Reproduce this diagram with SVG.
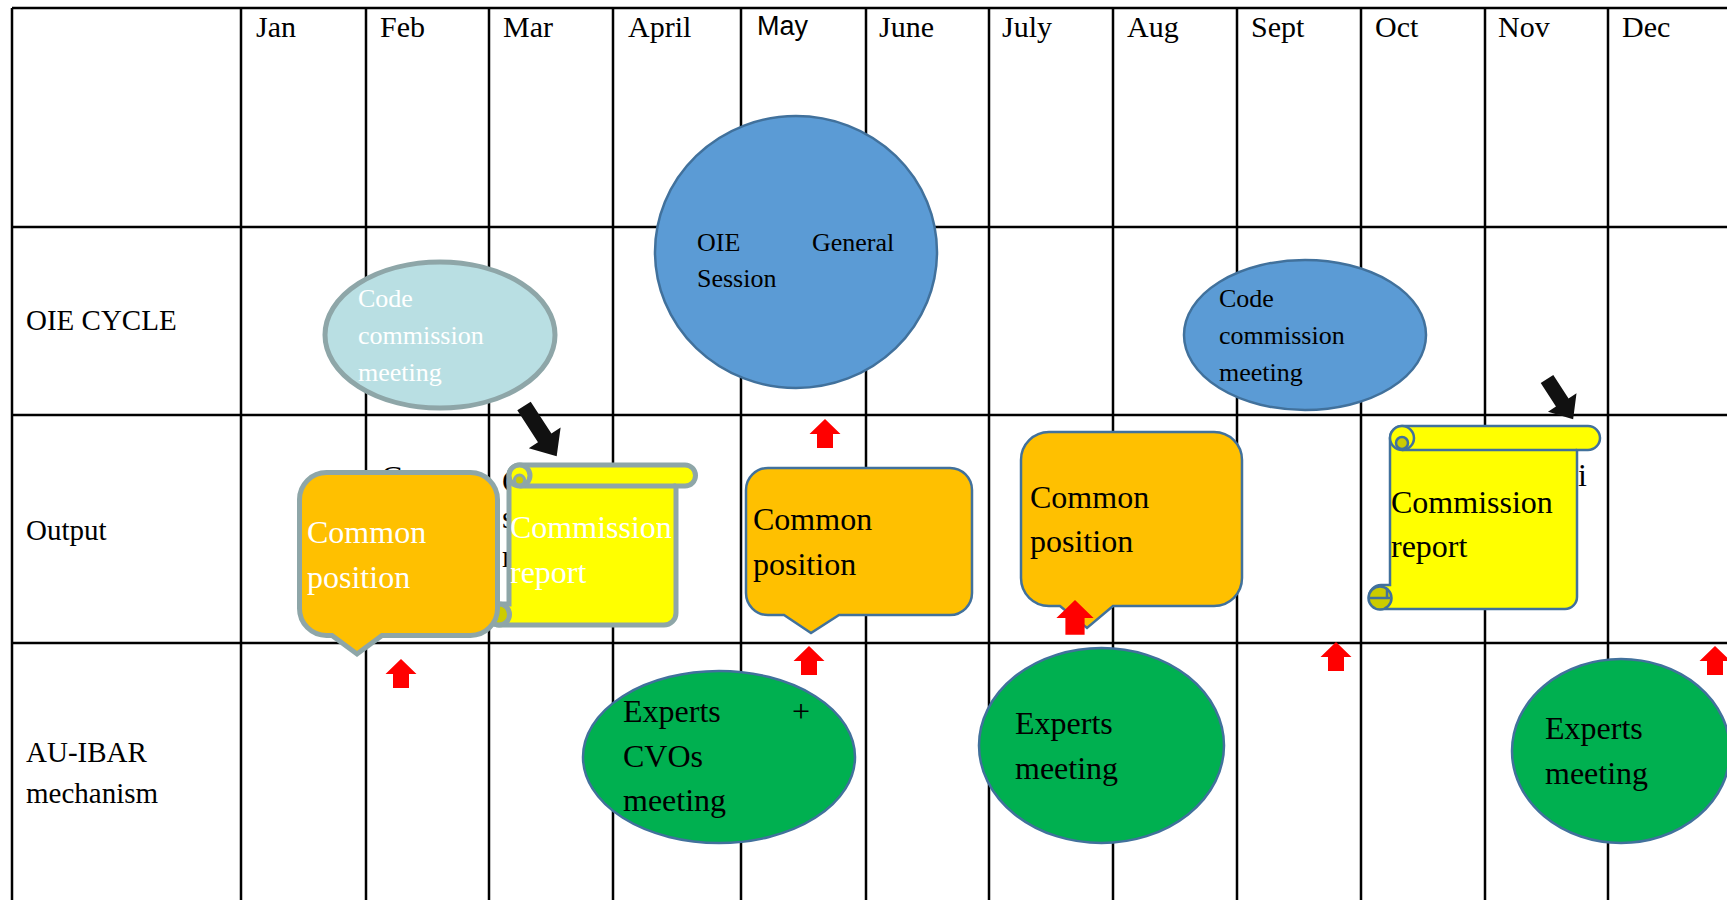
<svg xmlns="http://www.w3.org/2000/svg" xmlns:xlink="http://www.w3.org/1999/xlink" width="1727" height="900" viewBox="0 0 1727 900">
<style>
.g line{stroke:#000;stroke-width:2.5}
.s{font-family:"Liberation Serif","Times New Roman",serif}
.m{font-size:30px}
.r{font-size:29px}
.b{font-size:32px}
.c{font-size:26px}
.w{fill:#fff}
.k{fill:#000}
.blue{fill:#5b9bd5;stroke:#41719c;stroke-width:2.5}
.green{fill:#00b050;stroke:#41719c;stroke-width:2.5}
.orB{fill:#ffc000;stroke:#41719c;stroke-width:2.5}
.orG{fill:#ffc000;stroke:#8ea6a8;stroke-width:5}
.yB{fill:#ffff00;stroke:#41719c;stroke-width:2.5}
.yG{fill:#ffff00;stroke:#8ea6a8;stroke-width:5}
.dB{fill:#cccc00;stroke:#41719c;stroke-width:2.5}
.dG{fill:#cccc00;stroke:#8ea6a8;stroke-width:5}
.red{fill:#ff0000}
.blk{fill:#111}
</style>
<defs>
<path id="redArrow" d="M0,0 L15.5,15 L8,15 L8,29 L-8,29 L-8,15 L-15.5,15 Z"/>
</defs>
<rect width="1727" height="900" fill="#fff"/>
<g id="grid" class="g">
<line x1="12" y1="8" x2="1727" y2="8"/>
<line x1="12" y1="227" x2="1727" y2="227"/>
<line x1="12" y1="415" x2="1727" y2="415"/>
<line x1="12" y1="643" x2="1727" y2="643"/>
<line x1="12" y1="8" x2="12" y2="900"/>
<line x1="241" y1="8" x2="241" y2="900"/>
<line x1="366" y1="8" x2="366" y2="900"/>
<line x1="489" y1="8" x2="489" y2="900"/>
<line x1="613" y1="8" x2="613" y2="900"/>
<line x1="741" y1="8" x2="741" y2="900"/>
<line x1="866" y1="8" x2="866" y2="900"/>
<line x1="989" y1="8" x2="989" y2="900"/>
<line x1="1113" y1="8" x2="1113" y2="900"/>
<line x1="1237" y1="8" x2="1237" y2="900"/>
<line x1="1361" y1="8" x2="1361" y2="900"/>
<line x1="1485" y1="8" x2="1485" y2="900"/>
<line x1="1608" y1="8" x2="1608" y2="900"/>
</g>
<g id="headers" class="s m k">
<text x="256" y="37">Jan</text>
<text x="380" y="37">Feb</text>
<text x="503" y="37">Mar</text>
<text x="628" y="37">April</text>
<text x="757" y="35" style="font-family:'Liberation Sans',Arial,sans-serif;font-size:27px">May</text>
<text x="879" y="37">June</text>
<text x="1002" y="37">July</text>
<text x="1127" y="37">Aug</text>
<text x="1251" y="37">Sept</text>
<text x="1375" y="37">Oct</text>
<text x="1498" y="37">Nov</text>
<text x="1622" y="37">Dec</text>
</g>
<g id="rowlabels" class="s r k">
<text x="26" y="330">OIE CYCLE</text>
<text x="26" y="540">Output</text>
<text x="26" y="762">AU-IBAR</text>
<text x="26" y="803">mechanism</text>
</g>
<g id="hidden-fragments" class="s b k">
<text x="381" y="488">C</text>
<text x="502" y="492">C</text>
<text x="502" y="528">s</text>
<text x="502" y="567">r</text>
<text x="1578" y="486">i</text>
</g>
<g id="code-commission-feb">
<ellipse cx="440" cy="335" rx="115" ry="73" fill="#b9dfe3" stroke="#8ea6a8" stroke-width="5"/>
<g class="s c w"><text x="358" y="307">Code</text><text x="358" y="344">commission</text><text x="358" y="381">meeting</text></g>
</g>
<g id="oie-general-session">
<ellipse cx="796" cy="252" rx="141" ry="136" class="blue"/>
<g class="s c k"><text x="697" y="251">OIE</text><text x="812" y="251">General</text><text x="697" y="287">Session</text></g>
</g>
<g id="code-commission-sept">
<ellipse cx="1305" cy="335" rx="121" ry="75" class="blue"/>
<g class="s c k"><text x="1219" y="307">Code</text><text x="1219" y="344">commission</text><text x="1219" y="381">meeting</text></g>
</g>
<g id="commission-report-mar">
<path class="yG" d="M519.5,465 H685 A10.5 10.5 0 0 1 685,486 H676 V613 A12 12 0 0 1 664,625 H499 A10.5 10.5 0 0 1 499,604 H509 V475.5 A10.5 10.5 0 0 1 519.5,465 Z"/>
<path d="M519.5,486 H676" fill="none" stroke="#8ea6a8" stroke-width="5"/>
<circle cx="519.5" cy="475.5" r="10.5" class="yG"/>
<circle cx="519.5" cy="480" r="5" class="dG" style="stroke-width:3"/>
<circle cx="499" cy="614.5" r="10.5" class="dG"/>
<g class="s b w"><text x="510" y="538">Commission</text><text x="510" y="583">report</text></g>
</g>
<g id="common-position-feb">
<path class="orG" d="M326.5,472.5 H470.5 A27 27 0 0 1 497.5,499.5 V608.5 A27 27 0 0 1 470.5,635.5 H382 L357,654 L332,635.5 H326.5 A27 27 0 0 1 299.5,608.5 V499.5 A27 27 0 0 1 326.5,472.5 Z"/>
<g class="s b w"><text x="307" y="543">Common</text><text x="307" y="588">position</text></g>
</g>
<g id="common-position-may">
<path class="orB" d="M768,468 H950 A22 22 0 0 1 972,490 V593 A22 22 0 0 1 950,615 H839 L811,633 L784,615 H768 A22 22 0 0 1 746,593 V490 A22 22 0 0 1 768,468 Z"/>
<g class="s b k"><text x="753" y="530">Common</text><text x="753" y="575">position</text></g>
</g>
<g id="common-position-july">
<path class="orB" d="M1049,432 H1214 A28 28 0 0 1 1242,460 V578 A28 28 0 0 1 1214,606 H1113 L1087,628 L1060,606 H1049 A28 28 0 0 1 1021,578 V460 A28 28 0 0 1 1049,432 Z"/>
<g class="s b k"><text x="1030" y="508">Common</text><text x="1030" y="552">position</text></g>
</g>
<g id="commission-report-nov">
<path class="yB" d="M1402,426 H1588 A12 12 0 0 1 1588,450 H1577 V597 A12 12 0 0 1 1565,609 H1381 A12 12 0 0 1 1381,585 H1390 V438 A12 12 0 0 1 1402,426 Z"/>
<path d="M1402,450 H1577" fill="none" stroke="#41719c" stroke-width="2.5"/>
<circle cx="1402" cy="438" r="12" class="yB"/>
<circle cx="1402" cy="443" r="6" class="dB"/>
<circle cx="1380" cy="598" r="11.5" class="dB"/>
<path d="M1369,598 H1390 M1387,588 V597" fill="none" stroke="#41719c" stroke-width="2.5"/>
<g class="s b k"><text x="1391" y="513">Commission</text><text x="1391" y="557">report</text></g>
</g>
<g id="experts-cvos-meeting">
<ellipse cx="719" cy="757" rx="136" ry="86" class="green"/>
<g class="s b k"><text x="623" y="722">Experts</text><text x="792" y="722">+</text><text x="623" y="767">CVOs</text><text x="623" y="811">meeting</text></g>
</g>
<g id="experts-meeting-july">
<ellipse cx="1101.5" cy="745.5" rx="122.5" ry="97.5" class="green"/>
<g class="s b k"><text x="1015" y="734">Experts</text><text x="1015" y="779">meeting</text></g>
</g>
<g id="experts-meeting-dec">
<ellipse cx="1621" cy="751" rx="109" ry="92" class="green"/>
<g class="s b k"><text x="1545" y="739">Experts</text><text x="1545" y="784">meeting</text></g>
</g>
<g id="connectors">
<path class="blk" transform="translate(524,406) rotate(57)" d="M0,-8 H38 V-19 L60,0 L38,19 V8 H0 Z"/>
<path class="blk" transform="translate(1547,379) rotate(57)" d="M0,-7.5 H28 V-17 L48,0 L28,17 V7.5 H0 Z"/>
<use href="#redArrow" class="red" x="825" y="419"/>
<use href="#redArrow" class="red" x="401" y="659"/>
<use href="#redArrow" class="red" x="809" y="646"/>
<use href="#redArrow" class="red" transform="translate(1075,600) scale(1.2)"/>
<use href="#redArrow" class="red" x="1336" y="642"/>
<use href="#redArrow" class="red" x="1715" y="646"/>
</g>
</svg>
